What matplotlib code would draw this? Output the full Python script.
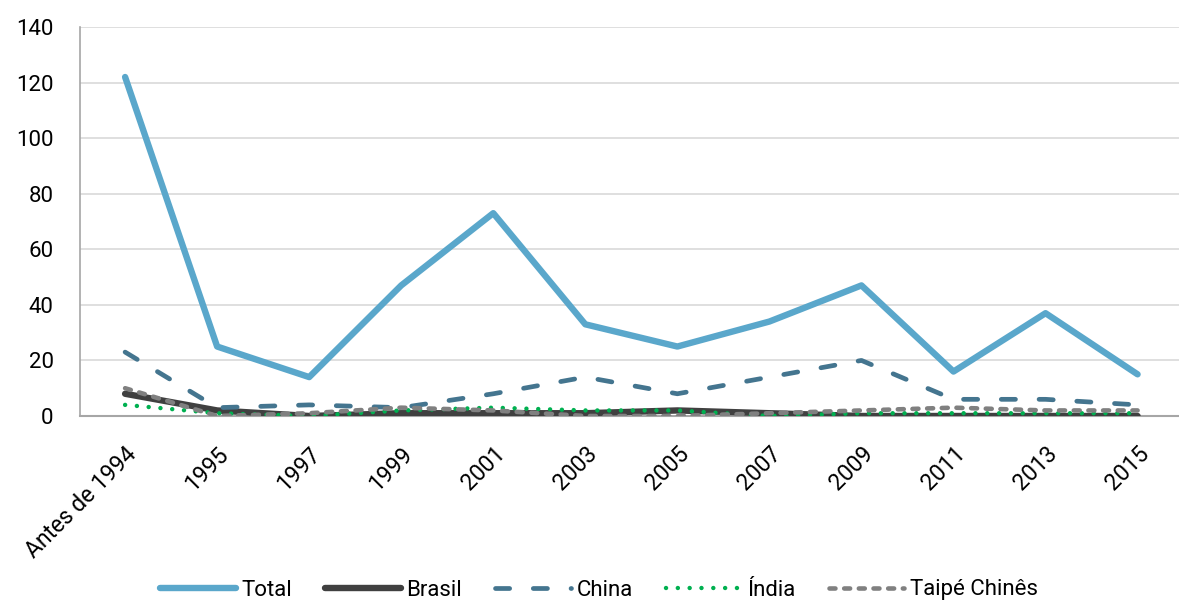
import matplotlib
matplotlib.use("Agg")
import matplotlib.pyplot as plt

categories = ["Antes de 1994", "1995", "1997", "1999", "2001", "2003", "2005",
              "2007", "2009", "2011", "2013", "2015"]
total = [122, 25, 14, 47, 73, 33, 25, 34, 47, 16, 37, 15]
brasil = [8, 2, 0, 1, 1, 1, 2, 1, 0, 0, 0, 0]
china = [23, 3, 4, 3, 8, 14, 8, 14, 20, 6, 6, 4]
india = [4, 1, 0, 2, 3, 2, 2, 0, 1, 1, 1, 1]
taipe = [10, 0, 1, 3, 2, 0, 0, 1, 2, 3, 2, 2]
yticks = [0, 20, 40, 60, 80, 100, 120, 140]

plt.rcParams['font.family'] = ['Roboto', 'DejaVu Sans']

fig = plt.figure(figsize=(11.79, 6.03), dpi=100)
ax = fig.add_axes([80/1179, 1 - 416/603, 1 - 80/1179, (416 - 27)/603])

x = list(range(len(categories)))
ax.plot(x, total, color="#5AA7CB", lw=4.6, label="Total", zorder=5,
        solid_capstyle="round", solid_joinstyle="round")
ax.plot(x, brasil, color="#404040", lw=4.6, label="Brasil", zorder=3,
        solid_capstyle="round", solid_joinstyle="round")
ax.plot(x, china, color="#44758F", lw=3.4, dashes=(3, 5), label="China",
        zorder=4, dash_capstyle="round")
ax.plot(x, india, color="#00B050", lw=3.2, dashes=(0.01, 2.65), label="Índia",
        zorder=4, dash_capstyle="round")
ax.plot(x, taipe, color="#808080", lw=3.3, dashes=(1.3, 1.9), label="Taipé Chinês",
        zorder=4, dash_capstyle="round")

ax.set_xlim(-0.49, 11.45)
ax.set_ylim(0, 140)
ax.set_yticks(yticks)
ax.set_yticklabels([str(v) for v in yticks], fontsize=16)
ax.set_xticks(x)
ax.set_xticklabels(categories, rotation=45, ha="right", rotation_mode="anchor",
                   fontsize=16.5)
ax.tick_params(axis="y", length=0, pad=19)
ax.tick_params(axis="x", length=0, pad=19)
ax.grid(axis="y", color="#D9D9D9", lw=1.2)
ax.set_axisbelow(True)
for s in ["top", "right"]:
    ax.spines[s].set_visible(False)
ax.spines["left"].set_color("#A6A6A6")
ax.spines["bottom"].set_color("#A6A6A6")
ax.spines["left"].set_linewidth(1.2)
ax.spines["bottom"].set_linewidth(1.5)

fig.legend(loc="center", bbox_to_anchor=(0.508, 1 - 590/603), ncol=5,
           frameon=False, fontsize=16, handlelength=3.4, columnspacing=1.5,
           handletextpad=0.25)

fig.savefig("out.png", dpi=100)
